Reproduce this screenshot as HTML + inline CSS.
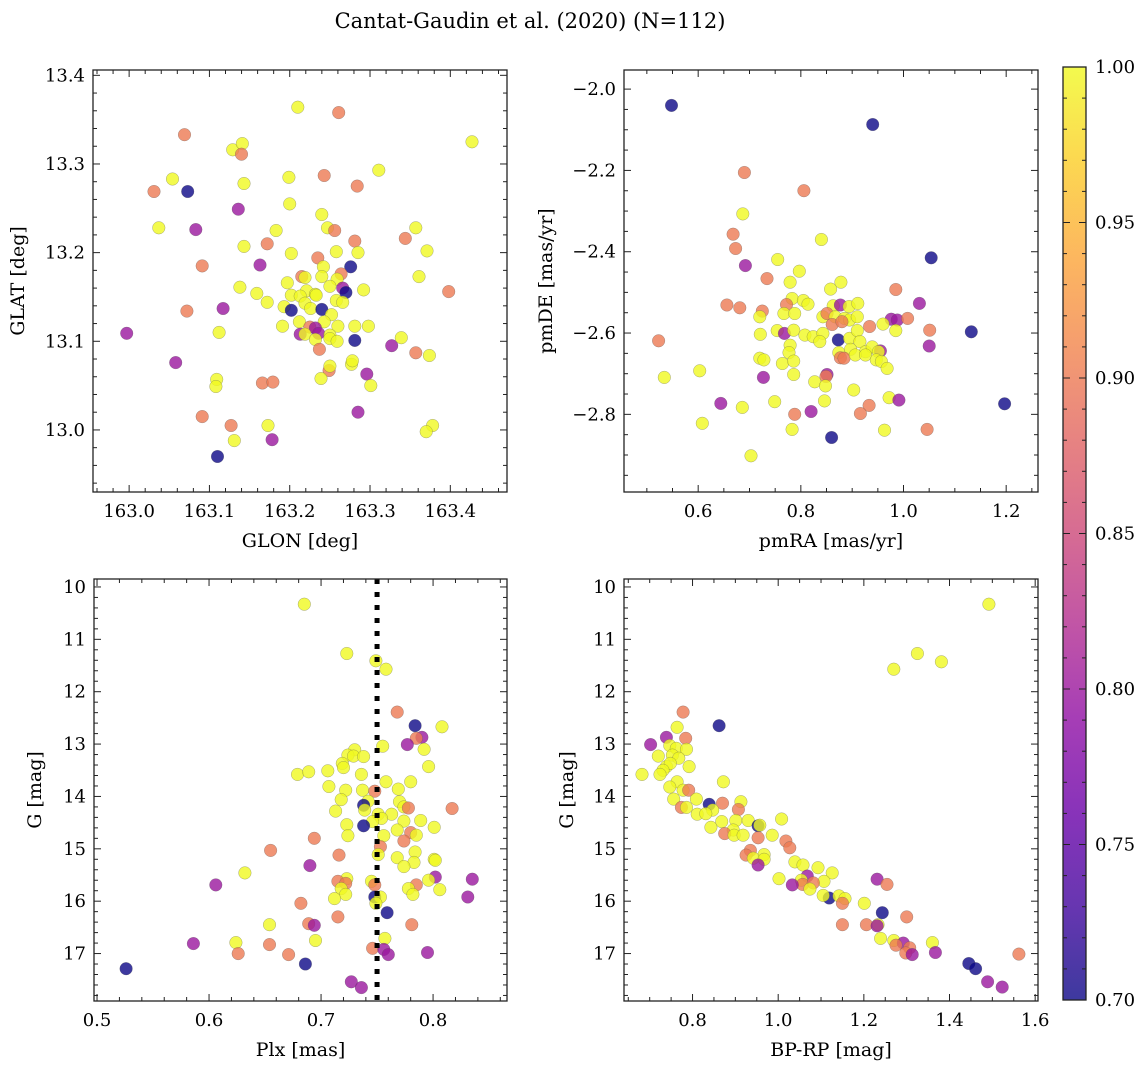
<!DOCTYPE html>
<html><head><meta charset="utf-8">
<style>
html,body{margin:0;padding:0;background:#fff;}
svg{display:block;font-family:"DejaVu Serif","Liberation Serif",serif;}
</style></head>
<body>
<svg id="fig" width="1148" height="1067" viewBox="0 0 1148 1067" xmlns="http://www.w3.org/2000/svg">
<text x="530" y="28" text-anchor="middle" font-size="21">Cantat-Gaudin et al. (2020) (N=112)</text>
</svg>
<script>
// ---- Panel 1: GLON / GLAT ----
const glon = [163.210,163.261,163.069,163.427,163.129,163.141,163.140,163.054,163.031,163.073,163.143,163.199,163.243,163.284,163.311,163.136,163.200,163.037,163.083,163.240,163.247,163.256,163.183,163.143,163.172,163.281,163.344,163.357,163.371,163.202,163.258,163.285,163.235,163.091,163.163,163.276,163.242,163.215,163.219,163.240,163.264,163.259,163.361,163.398,163.138,163.197,163.250,163.266,163.270,163.292,163.221,163.232,163.233,163.159,163.172,163.202,163.213,163.219,163.258,163.266,163.193,163.202,163.226,163.240,163.252,163.117,163.072,163.212,163.191,163.243,163.260,163.281,163.298,163.225,163.232,163.236,163.213,163.219,163.232,163.250,163.250,163.259,163.281,162.997,163.112,163.237,163.327,163.339,163.357,163.374,163.058,163.277,163.278,163.249,163.250,163.239,163.296,163.301,163.109,163.108,163.166,163.179,163.091,163.173,163.127,163.285,163.378,163.370,163.131,163.178,163.110];
const glat = [13.364,13.358,13.333,13.325,13.316,13.323,13.311,13.283,13.269,13.269,13.278,13.285,13.287,13.275,13.293,13.249,13.255,13.228,13.226,13.243,13.228,13.225,13.225,13.207,13.210,13.213,13.216,13.228,13.202,13.199,13.201,13.200,13.194,13.185,13.186,13.184,13.184,13.173,13.172,13.173,13.176,13.170,13.173,13.156,13.161,13.166,13.162,13.160,13.155,13.158,13.157,13.153,13.152,13.154,13.144,13.152,13.151,13.143,13.146,13.144,13.139,13.135,13.137,13.136,13.130,13.137,13.134,13.122,13.117,13.122,13.117,13.117,13.117,13.116,13.115,13.109,13.108,13.108,13.102,13.107,13.103,13.100,13.101,13.109,13.110,13.091,13.095,13.104,13.087,13.084,13.076,13.074,13.078,13.067,13.072,13.058,13.063,13.050,13.057,13.049,13.053,13.054,13.015,13.005,13.005,13.020,13.005,12.998,12.988,12.989,12.970];
const prob1 = [1,.9,.9,1,1,1,.9,1,.9,.7,1,1,.9,.9,1,.8,1,1,.8,1,1,.9,1,1,.9,.9,.9,1,1,1,1,1,.9,.9,.8,.7,1,.9,1,1,.9,1,1,.9,1,1,1,.8,.7,1,1,1,1,1,1,1,1,1,1,1,1,.7,1,.7,1,.8,.9,1,1,1,1,1,1,.9,.8,.8,.8,1,1,1,1,1,.7,.8,1,.9,.8,1,.9,1,.8,1,1,.9,1,1,.8,1,1,1,.9,.9,.9,1,.9,.8,1,1,1,.8,.7];

// ---- Panel 2: pmRA / pmDE ----
const pmra = [0.548,0.940,0.690,0.806,0.687,0.668,0.673,0.840,1.054,0.692,0.755,0.734,0.797,0.779,0.858,0.878,0.985,0.783,0.805,0.814,1.031,0.656,0.681,0.772,0.725,0.720,0.767,0.788,0.863,0.877,0.894,0.911,0.843,0.851,0.867,0.885,0.895,0.910,0.861,0.880,0.976,0.988,1.008,0.934,0.960,1.051,1.132,0.754,0.768,0.786,0.721,0.808,0.824,0.843,0.837,0.873,0.895,0.910,0.985,0.915,0.779,0.777,1.050,0.897,0.926,0.939,0.955,0.951,0.874,0.877,0.884,0.906,0.926,0.720,0.728,0.764,0.786,0.947,0.957,0.968,0.603,0.534,0.727,0.786,0.851,0.849,0.827,0.848,0.523,0.903,0.644,0.686,0.749,0.846,0.972,0.991,0.933,1.197,0.788,0.820,0.916,0.608,0.783,0.860,0.963,1.046,0.703];
const pmde = [-2.040,-2.087,-2.205,-2.250,-2.307,-2.357,-2.392,-2.370,-2.415,-2.434,-2.419,-2.466,-2.448,-2.475,-2.492,-2.475,-2.493,-2.515,-2.520,-2.529,-2.527,-2.531,-2.538,-2.530,-2.546,-2.560,-2.552,-2.552,-2.533,-2.531,-2.535,-2.527,-2.560,-2.552,-2.560,-2.564,-2.568,-2.560,-2.579,-2.572,-2.566,-2.568,-2.564,-2.584,-2.578,-2.593,-2.597,-2.594,-2.601,-2.593,-2.603,-2.605,-2.609,-2.601,-2.621,-2.617,-2.613,-2.594,-2.594,-2.621,-2.630,-2.648,-2.632,-2.640,-2.646,-2.634,-2.644,-2.646,-2.648,-2.661,-2.662,-2.654,-2.654,-2.662,-2.666,-2.675,-2.669,-2.666,-2.670,-2.687,-2.693,-2.709,-2.709,-2.702,-2.702,-2.707,-2.720,-2.730,-2.619,-2.740,-2.773,-2.783,-2.769,-2.767,-2.759,-2.765,-2.778,-2.774,-2.800,-2.793,-2.798,-2.822,-2.837,-2.857,-2.839,-2.837,-2.902];
const prob2 = [.7,.7,.9,.9,1,.9,.9,1,.7,.8,1,.9,1,1,1,1,.9,1,1,1,.8,.9,.9,.9,.9,1,1,1,1,.8,1,1,1,.9,1,1,1,1,.9,.9,.8,.8,.9,.9,1,.9,.7,1,.8,1,1,1,1,1,1,.7,1,1,1,1,1,1,.8,1,1,1,.8,1,1,.9,.9,1,1,1,1,1,1,1,1,1,1,1,.8,1,.8,.9,1,1,.9,1,.8,1,1,1,1,.8,.9,.7,.9,.8,.9,1,1,.7,1,.9,1];

// ---- Panel 3: Plx / G ----
const plx = [0.685,0.723,0.749,0.758,0.768,0.784,0.808,0.790,0.785,0.777,0.755,0.792,0.730,0.724,0.729,0.738,0.719,0.720,0.796,0.679,0.689,0.706,0.736,0.758,0.780,0.707,0.722,0.737,0.748,0.769,0.718,0.742,0.738,0.770,0.774,0.778,0.817,0.713,0.739,0.751,0.763,0.754,0.774,0.789,0.746,0.738,0.723,0.801,0.768,0.780,0.785,0.724,0.756,0.694,0.774,0.753,0.655,0.751,0.716,0.784,0.768,0.801,0.802,0.783,0.774,0.690,0.632,0.802,0.835,0.723,0.715,0.745,0.796,0.722,0.748,0.785,0.606,0.718,0.778,0.806,0.722,0.782,0.748,0.753,0.712,0.831,0.749,0.682,0.759,0.715,0.654,0.689,0.694,0.781,0.757,0.695,0.586,0.624,0.654,0.746,0.756,0.626,0.671,0.760,0.795,0.686,0.526,0.727,0.736];
const gmag3 = [10.33,11.27,11.41,11.57,12.39,12.65,12.67,12.87,12.89,13.01,13.04,13.10,13.11,13.21,13.23,13.24,13.37,13.45,13.43,13.58,13.53,13.51,13.58,13.72,13.72,13.81,13.88,13.88,13.90,13.86,14.06,14.09,14.17,14.10,14.20,14.22,14.23,14.28,14.26,14.34,14.34,14.42,14.47,14.46,14.48,14.56,14.54,14.59,14.64,14.69,14.74,14.75,14.75,14.80,14.85,14.96,15.03,15.11,15.12,15.06,15.17,15.20,15.22,15.26,15.34,15.32,15.46,15.54,15.58,15.57,15.62,15.62,15.60,15.66,15.69,15.69,15.69,15.76,15.76,15.78,15.87,15.87,15.92,15.92,15.95,15.92,16.04,16.04,16.22,16.30,16.45,16.43,16.46,16.45,16.71,16.75,16.81,16.79,16.83,16.90,16.92,17.00,17.02,17.02,16.98,17.20,17.29,17.54,17.65];
const prob3 = [1,1,1,1,.9,.7,1,.8,.9,.8,1,1,1,1,1,1,1,1,1,1,1,1,1,1,1,1,1,1,.9,1,1,1,.7,1,1,.9,.9,1,1,1,1,1,1,1,1,.7,1,1,1,.9,1,1,1,.9,.9,.9,.9,1,.9,1,1,1,1,1,1,.8,1,.8,.8,1,.9,1,1,.9,.9,.9,.8,1,1,1,1,1,.7,1,1,.8,1,.9,.7,.9,1,.9,.8,.9,1,1,.8,1,.9,.9,.8,.9,.9,.8,.8,.7,.7,.8,.8];

// ---- Panel 4: BP-RP / G ----
const bprp = [1.492,1.325,1.381,1.270,0.778,0.862,0.764,0.739,0.784,0.702,0.747,0.762,0.786,0.720,0.753,0.768,0.739,0.748,0.792,0.731,0.724,0.682,0.872,0.764,0.747,0.778,0.791,0.809,0.756,0.870,0.839,0.913,0.774,0.786,0.907,0.847,0.811,0.831,1.008,0.901,0.930,0.868,0.953,0.957,0.843,0.895,0.875,0.897,0.918,0.986,0.953,1.018,1.027,0.935,0.925,0.967,0.942,0.967,0.953,1.039,1.058,1.093,1.126,1.231,1.254,1.002,1.068,1.107,1.054,1.057,1.033,1.082,1.074,1.119,1.105,1.142,1.156,1.150,1.201,1.243,1.300,1.150,1.206,1.233,1.231,1.239,1.270,1.292,1.275,1.307,1.298,1.313,1.360,1.367,1.562,1.445,1.461,1.489,1.523];
const gmag4 = [10.33,11.27,11.43,11.57,12.39,12.65,12.68,12.87,12.89,13.01,13.03,13.08,13.10,13.23,13.21,13.27,13.43,13.37,13.43,13.50,13.58,13.58,13.72,13.72,13.82,13.88,13.88,14.05,14.05,14.13,14.15,14.10,14.21,14.21,14.25,14.26,14.34,14.33,14.43,14.46,14.46,14.48,14.56,14.55,14.59,14.64,14.71,14.74,14.74,14.74,14.79,14.85,14.98,15.03,15.12,15.11,15.18,15.20,15.31,15.25,15.31,15.36,15.46,15.58,15.68,15.57,15.52,15.62,15.60,15.68,15.69,15.65,15.77,15.94,15.89,15.90,15.95,16.04,16.04,16.22,16.30,16.45,16.45,16.45,16.47,16.71,16.75,16.80,16.84,16.89,16.99,17.02,16.79,16.98,17.01,17.19,17.29,17.54,17.64];
const prob4 = [1,1,1,1,.9,.7,1,.8,.9,.8,1,1,1,1,1,1,1,1,1,1,1,1,1,1,1,1,.9,1,1,.9,.7,1,.9,1,.9,1,1,1,1,1,1,1,.7,1,1,1,.9,1,1,1,.9,.9,.9,.9,.9,1,1,1,.8,1,1,1,1,.8,.9,1,.8,1,1,.9,.8,.9,1,.7,1,1,1,.9,1,.7,.9,.9,.9,1,.8,1,1,.8,.9,.9,.9,.8,1,.8,.9,.7,.7,.8,.8];

// ---- Tick label arrays ----
const p1xTicks = [163.0,163.1,163.2,163.3,163.4];
const p1yTicks = [13.0,13.1,13.2,13.3,13.4];
const p2xTicks = [0.6,0.8,1.0,1.2];
const p2yTicks = [-2.8,-2.6,-2.4,-2.2,-2.0];
const p3xTicks = [0.5,0.6,0.7,0.8];
const gTicks = [10,11,12,13,14,15,16,17];
const p4xTicks = [0.8,1.0,1.2,1.4,1.6];
const cbTicks = [0.70,0.75,0.80,0.85,0.90,0.95,1.00];
const plxRef = 0.75;

const NS = "http://www.w3.org/2000/svg";
const svg = document.getElementById('fig');
function mk(tag, attrs, parent){const e=document.createElementNS(NS,tag);for(const k in attrs)e.setAttribute(k,attrs[k]);(parent||svg).appendChild(e);return e;}

const plasma=[[0,[13,8,135]],[0.1,[65,4,157]],[0.2,[106,0,168]],[0.3,[143,13,164]],[0.4,[177,42,144]],[0.5,[204,71,120]],[0.6,[225,100,98]],[0.7,[242,132,75]],[0.8,[252,166,54]],[0.9,[252,206,37]],[1,[240,249,33]]];
function cmap(v){let t=(v-0.7)/0.3;t=Math.max(0,Math.min(1,t));for(let i=1;i<plasma.length;i++){if(t<=plasma[i][0]){const a=plasma[i-1],b=plasma[i];const f=(t-a[0])/(b[0]-a[0]);const c=a[1].map((x,j)=>Math.round(x+(b[1][j]-x)*f));return `rgb(${c[0]},${c[1]},${c[2]})`;}}return 'rgb(240,249,33)';}

function fmt(v,d){let s=v.toFixed(d);return s.replace('-','\u2212');}

const TFS=18, LFS=19;
function panel(cfg){
  const g=mk('g',{});
  
  
  const X=v=>cfg.x0+(v-cfg.xmin)/(cfg.xmax-cfg.xmin)*(cfg.x1-cfg.x0);
  const Y=v=>cfg.inv? cfg.y0+(v-cfg.ymin)/(cfg.ymax-cfg.ymin)*(cfg.y1-cfg.y0) : cfg.y1-(v-cfg.ymin)/(cfg.ymax-cfg.ymin)*(cfg.y1-cfg.y0);
  const pg=mk('g',{},g);
  
  
  for(let i=0;i<cfg.xs.length;i++){
    const c=mk('circle',{cx:X(cfg.xs[i]).toFixed(1),cy:Y(cfg.ys[i]).toFixed(1),r:6.3,fill:cmap(cfg.cs[i]),'fill-opacity':0.8,stroke:'#555','stroke-opacity':0.5,'stroke-width':0.5},pg);
    
    
  }
  if(cfg.extra) cfg.extra(g,X,Y);
  const fr=mk('rect',{x:cfg.x0,y:cfg.y0,width:cfg.x1-cfg.x0,height:cfg.y1-cfg.y0,fill:'none',stroke:'#222','stroke-width':1.3},g);
  
  
  const tk=mk('g',{stroke:'#222','stroke-width':1},g);
  
  
  const eps=1e-9;
  for(let v=Math.ceil(cfg.xmin/cfg.xminor-eps)*cfg.xminor; v<=cfg.xmax+eps; v+=cfg.xminor){
    const px=X(v);const isMaj=Math.abs(v/cfg.xmajor-Math.round(v/cfg.xmajor))<1e-6;const L=isMaj?7:4;
    mk('line',{x1:px,x2:px,y1:cfg.y1,y2:cfg.y1-L},tk);mk('line',{x1:px,x2:px,y1:cfg.y0,y2:cfg.y0+L},tk);
  }
  for(let v=Math.ceil(cfg.ymin/cfg.yminor-eps)*cfg.yminor; v<=cfg.ymax+eps; v+=cfg.yminor){
    const py=Y(v);const isMaj=Math.abs(v/cfg.ymajor-Math.round(v/cfg.ymajor))<1e-6;const L=isMaj?7:4;
    mk('line',{x1:cfg.x0,x2:cfg.x0+L,y1:py,y2:py},tk);mk('line',{x1:cfg.x1,x2:cfg.x1-L,y1:py,y2:py},tk);
  }
  cfg.xt.forEach(v=>{const t=mk('text',{x:X(v),y:cfg.y1+25,'text-anchor':'middle','font-size':TFS},g);t.textContent=fmt(v,cfg.xd);
    
    });
  cfg.yt.forEach(v=>{const t=mk('text',{x:cfg.x0-8,y:Y(v)+6,'text-anchor':'end','font-size':TFS},g);t.textContent=fmt(v,cfg.yd);
    
    });
  const xl=mk('text',{x:(cfg.x0+cfg.x1)/2,y:cfg.y1+55,'text-anchor':'middle','font-size':LFS},g);xl.textContent=cfg.xlabel;
  
  
  const yc=(cfg.y0+cfg.y1)/2;
  const yl=mk('text',{x:cfg.ylx,y:yc,'text-anchor':'middle','font-size':LFS,transform:`rotate(-90 ${cfg.ylx} ${yc})`},g);yl.textContent=cfg.ylabel;
  
  
}

panel({name:'glon-glat-panel',x0:93,x1:507,y0:70,y1:492,xmin:162.955,xmax:163.4706,ymin:12.930,ymax:13.406,xmajor:0.1,xminor:0.02,ymajor:0.1,yminor:0.02,xs:glon,ys:glat,cs:prob1,xt:p1xTicks,yt:p1yTicks,xd:1,yd:1,xlabel:'GLON [deg]',ylabel:'GLAT [deg]',ylx:24});
panel({name:'pm-panel',x0:624,x1:1038,y0:70,y1:492,xmin:0.4555,xmax:1.262,ymin:-2.991,ymax:-1.953,xmajor:0.2,xminor:0.05,ymajor:0.2,yminor:0.05,xs:pmra,ys:pmde,cs:prob2,xt:p2xTicks,yt:p2yTicks,xd:1,yd:1,xlabel:'pmRA [mas/yr]',ylabel:'pmDE [mas/yr]',ylx:552});
panel({name:'plx-g-panel',x0:94,x1:507,y0:579,y1:1001,xmin:0.4973,xmax:0.866,ymin:9.848,ymax:17.906,inv:true,xmajor:0.1,xminor:0.02,ymajor:1,yminor:0.2,xs:plx,ys:gmag3,cs:prob3,xt:p3xTicks,yt:gTicks,xd:1,yd:0,xlabel:'Plx [mas]',ylabel:'G [mag]',ylx:41,
  extra:(g,X,Y)=>{const l=mk('line',{x1:X(plxRef),x2:X(plxRef),y1:579,y2:1001,stroke:'#000','stroke-width':5,'stroke-dasharray':'5 8'},g);
    
    }});
panel({name:'cmd-panel',x0:624,x1:1038,y0:579,y1:1001,xmin:0.640,xmax:1.6066,ymin:9.848,ymax:17.906,inv:true,xmajor:0.2,xminor:0.05,ymajor:1,yminor:0.2,xs:bprp,ys:gmag4,cs:prob4,xt:p4xTicks,yt:gTicks,xd:1,yd:0,xlabel:'BP-RP [mag]',ylabel:'G [mag]',ylx:573});

(function(){
  const cb=mk('g',{});
  
  
  const defs=mk('defs',{},cb);
  const lg=mk('linearGradient',{id:'plg',x1:0,y1:1,x2:0,y2:0},defs);
  plasma.forEach(s=>mk('stop',{offset:s[0],'stop-color':`rgb(${s[1].join(',')})`,'stop-opacity':0.8},lg));
  const x0=1063,x1=1086,y0=67,y1=1000;
  mk('rect',{x:x0,y:y0,width:x1-x0,height:y1-y0,fill:'url(#plg)'},cb);
  mk('rect',{x:x0,y:y0,width:x1-x0,height:y1-y0,fill:'none',stroke:'#222','stroke-width':1.3},cb);
  const Y=v=>y1-(v-0.7)/0.3*(y1-y0);
  for(let k=0;k<=30;k++){const v=0.7+k*0.01;const py=Y(v);const maj=k%5===0;const L=maj?7:4;
    mk('line',{x1:x1,x2:x1-L,y1:py,y2:py,stroke:'#222'},cb);mk('line',{x1:x0,x2:x0+L,y1:py,y2:py,stroke:'#222'},cb);}
  cbTicks.forEach(v=>{const t=mk('text',{x:x1+9,y:Y(v)+6,'font-size':TFS},cb);t.textContent=v.toFixed(2);
    
    });
})();
</script>
</body></html>
